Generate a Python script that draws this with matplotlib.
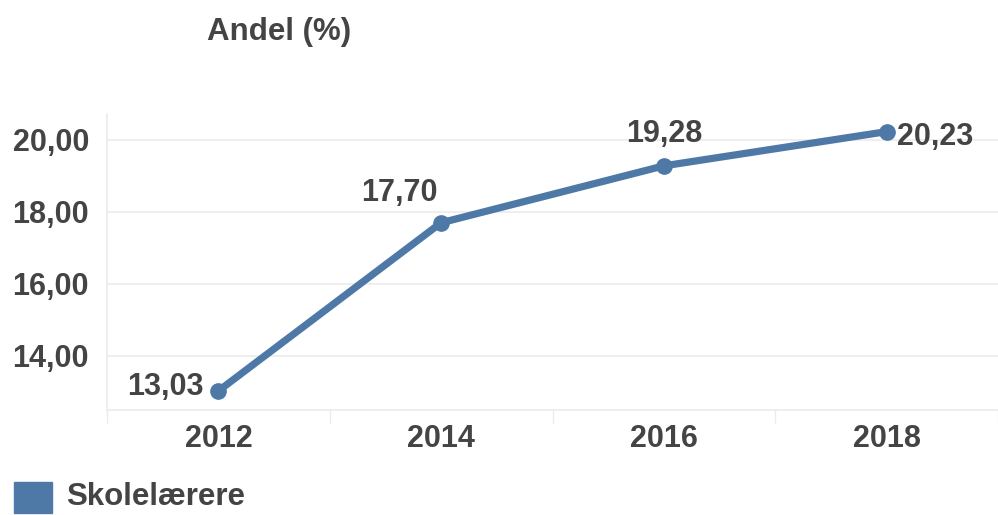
import matplotlib.pyplot as plt
from matplotlib.patches import Rectangle

years = ["2012", "2014", "2016", "2018"]
andel = [13.03, 17.70, 19.28, 20.23]
y_ticks = [14, 16, 18, 20]
y_tick_labels = ["14,00", "16,00", "18,00", "20,00"]
series_name = "Skolelærere"
title = "Andel (%)"

blue = "#4e79a7"
text_col = "#444444"
grid_col = "#ebebeb"

plt.rcParams["font.family"] = ["Liberation Sans", "DejaVu Sans"]
plt.rcParams["font.weight"] = "bold"

W, H = 998, 515
fig = plt.figure(figsize=(W / 100, H / 100), dpi=100)
ax = fig.add_axes([107 / W, (H - 410) / H, (998 - 107) / W, (410 - 114) / H])

x = list(range(len(years)))
ax.plot(x, andel, color=blue, lw=5.2, marker="o", markersize=11,
        solid_capstyle="round", zorder=3)

# label offsets in pixels (dx, dy, ha)
offsets = [(-15, 4, "right"), (-42, 30, "center"), (0, 32, "center"), (10, -5, "left")]
for xi, v, (dx, dy, ha) in zip(x, andel, offsets):
    ax.annotate(f"{v:.2f}".replace(".", ","), (xi, v), xytext=(dx, dy),
                textcoords="offset pixels", ha=ha, va="center",
                fontsize=22, color=text_col, fontweight="bold")

ax.set_xlim(-0.5, -0.5 + 891 / 225.3)
ax.set_ylim(12.5, 20.72)

ax.set_xticks(x)
ax.set_xticklabels(years)
ax.set_xticks([i - 0.5 for i in range(len(years) + 1)], minor=True)
ax.tick_params(axis="x", which="major", length=0, pad=10, labelsize=22,
               labelcolor=text_col)
ax.tick_params(axis="x", which="minor", length=9, width=1, color=grid_col)

ax.set_yticks(y_ticks)
ax.set_yticklabels(y_tick_labels)
ax.tick_params(axis="y", length=0, pad=13, labelsize=22, labelcolor=text_col)

ax.grid(axis="y", color=grid_col, lw=1.2)
for s in ["top", "right"]:
    ax.spines[s].set_visible(False)
ax.spines["left"].set_color(grid_col)
ax.spines["bottom"].set_color(grid_col)
ax.spines["left"].set_linewidth(1.2)
ax.spines["bottom"].set_linewidth(1.2)

fig.text(207 / W, (H - 32) / H, title, fontsize=22.5, color=text_col,
         fontweight="bold", ha="left", va="center")

fig.add_artist(Rectangle((14 / W, 2 / H), 38 / W, 31 / H, transform=fig.transFigure,
                         color=blue))
fig.text(66 / W, (H - 497) / H, series_name, fontsize=22.5, color=text_col,
         fontweight="bold", ha="left", va="center")

fig.savefig("out.png", dpi=100)
